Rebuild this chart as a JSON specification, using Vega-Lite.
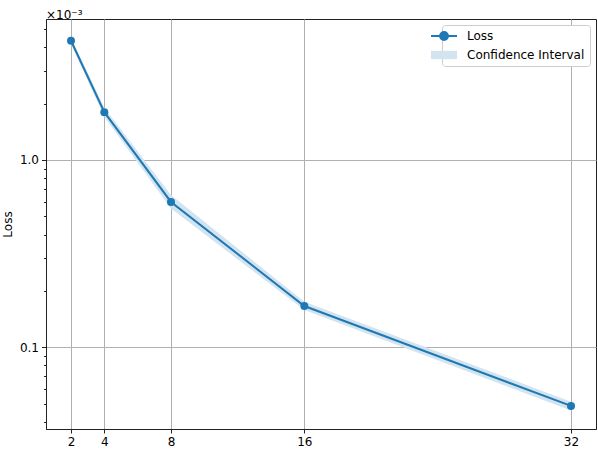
{
  "$schema": "https://vega.github.io/schema/vega-lite/v6.json",
  "width": 550,
  "height": 410,
  "autosize": "none",
  "padding": {"left": 46, "top": 19, "right": 2, "bottom": 20},
  "background": "white",
  "config": {
    "font": "DejaVu Sans",
    "view": {"stroke": "#222222", "strokeWidth": 1},
    "axis": {
      "labelFont": "DejaVu Sans",
      "titleFont": "DejaVu Sans",
      "labelFontSize": 12,
      "titleFontSize": 12,
      "titleFontWeight": "normal",
      "labelColor": "black",
      "titleColor": "black",
      "domainColor": "#222222",
      "domainWidth": 1,
      "tickColor": "#222222",
      "tickWidth": 1,
      "gridColor": "#b0b0b0",
      "gridWidth": 1
    }
  },
  "title": {
    "text": "×10⁻³",
    "anchor": "start",
    "frame": "group",
    "fontSize": 12,
    "fontWeight": "normal",
    "font": "DejaVu Sans",
    "baseline": "alphabetic",
    "offset": -12,
    "color": "black"
  },
  "data": {
    "values": [
      {"x": 2, "loss": 0.00433, "lo": 0.00416, "hi": 0.0045},
      {"x": 4, "loss": 0.0018, "lo": 0.0017, "hi": 0.0019},
      {"x": 8, "loss": 0.000597, "lo": 0.00055, "hi": 0.00065},
      {"x": 16, "loss": 0.000166, "lo": 0.000158, "hi": 0.000175},
      {"x": 32, "loss": 0.0000486, "lo": 0.000046, "hi": 0.0000512}
    ]
  },
  "encoding": {
    "x": {
      "field": "x",
      "type": "quantitative",
      "scale": {"domain": [0.5, 33.5], "nice": false, "zero": false},
      "axis": {
        "values": [2, 4, 8, 16, 32],
        "title": null,
        "tickSize": 4,
        "labelPadding": 3,
        "grid": true
      }
    }
  },
  "layer": [
    {
      "mark": {"type": "area", "opacity": 1},
      "encoding": {
        "y": {"field": "lo", "type": "quantitative"},
        "y2": {"field": "hi"},
        "color": {"datum": "Confidence Interval"}
      }
    },
    {
      "mark": {"type": "line", "strokeWidth": 2, "point": {"filled": true, "size": 64, "opacity": 1}},
      "encoding": {
        "y": {
          "field": "loss",
          "type": "quantitative",
          "scale": {"type": "log", "domain": [0.0000366, 0.00566], "nice": false},
          "axis": {
            "title": "Loss",
            "titlePadding": 5,
            "values": [0.00004, 0.00005, 0.00006, 0.00007, 0.00008, 0.00009, 0.0001, 0.0002, 0.0003, 0.0004, 0.0005, 0.0006, 0.0007, 0.0008, 0.0009, 0.001, 0.002, 0.003, 0.004, 0.005],
            "labelExpr": "abs(datum.value - 0.001) < 1e-9 ? '1.0' : (abs(datum.value - 0.0001) < 1e-10 ? '0.1' : '')",
            "tickSize": {"condition": {"test": "abs(datum.value - 0.001) < 1e-9 || abs(datum.value - 0.0001) < 1e-10", "value": 4.5}, "value": 2.5},
            "gridOpacity": {"condition": {"test": "abs(datum.value - 0.001) < 1e-9 || abs(datum.value - 0.0001) < 1e-10", "value": 1}, "value": 0},
            "labelPadding": 3,
            "grid": true
          }
        },
        "color": {
          "datum": "Loss",
          "type": "nominal",
          "scale": {"domain": ["Loss", "Confidence Interval"], "range": ["#1f77b4", "#d2e4f0"]},
          "legend": {
            "title": null,
            "orient": "top-right",
            "offset": 6,
            "padding": 5,
            "fillColor": "white",
            "strokeColor": "#cccccc",
            "cornerRadius": 3,
            "labelFont": "DejaVu Sans",
            "labelFontSize": 12,
            "labelColor": "black",
            "labelOffset": 8,
            "symbolSize": 676,
            "rowPadding": 5,
            "encode": {
              "symbols": {
                "update": {
                  "shape": {"signal": "datum.value === 'Loss' ? 'M-1.69,0L0.31,0M-0.99,0A0.3,0.3 0 1,1 -0.39,0A0.3,0.3 0 1,1 -0.99,0Z' : 'M-1.69,-0.32L0.31,-0.32L0.31,0.32L-1.69,0.32Z'"},
                  "fill": {"signal": "datum.value === 'Loss' ? '#1f77b4' : '#d2e4f0'"},
                  "stroke": {"signal": "datum.value === 'Loss' ? '#1f77b4' : 'transparent'"},
                  "strokeWidth": {"signal": "datum.value === 'Loss' ? 2 : 0"},
                  "opacity": {"value": 1},
                  "fillOpacity": {"value": 1},
                  "strokeOpacity": {"value": 1}
                }
              }
            }
          }
        }
      }
    }
  ]
}
